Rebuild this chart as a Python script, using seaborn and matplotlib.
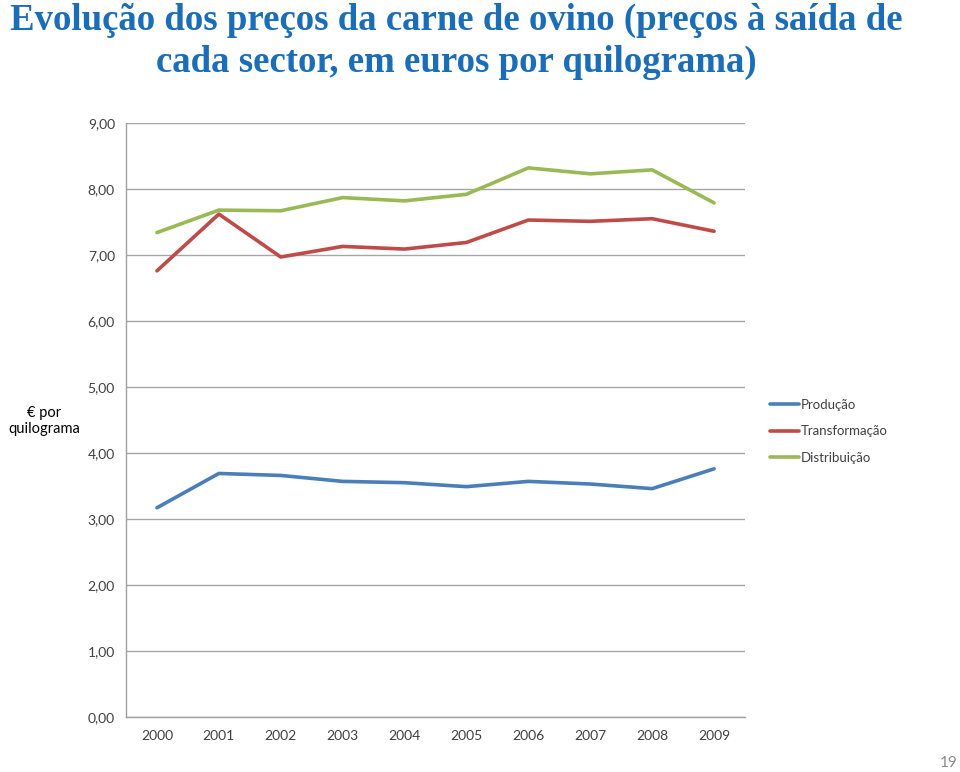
import matplotlib
matplotlib.use("Agg")
import matplotlib.pyplot as plt
import seaborn as sns
import pandas as pd
from matplotlib.ticker import FixedLocator, FuncFormatter

years = [2000, 2001, 2002, 2003, 2004, 2005, 2006, 2007, 2008, 2009]
producao = [3.17, 3.69, 3.66, 3.57, 3.55, 3.49, 3.57, 3.53, 3.46, 3.76]
transformacao = [6.76, 7.62, 6.97, 7.13, 7.09, 7.19, 7.53, 7.51, 7.55, 7.36]
distribuicao = [7.34, 7.68, 7.67, 7.87, 7.82, 7.92, 8.32, 8.23, 8.29, 7.79]
series_names = ["Produção", "Transformação", "Distribuição"]
colors = ["#4A7EBB", "#BE4B48", "#98B954"]

df = pd.DataFrame({
    "ano": years * 3,
    "preco": producao + transformacao + distribuicao,
    "sector": [series_names[0]] * 10 + [series_names[1]] * 10 + [series_names[2]] * 10,
})

sns.set_style("white")
plt.rcParams["font.family"] = ["Lato", "DejaVu Sans"]

fig = plt.figure(figsize=(9.6, 7.72), dpi=100)
ax = fig.add_axes([126 / 960, 1 - 717 / 772, (745 - 126) / 960, (717 - 123) / 772])

sns.lineplot(data=df, x="ano", y="preco", hue="sector", palette=colors,
             hue_order=series_names, linewidth=2.6, ax=ax, legend=False)

ax.set_xlim(years[0] - 0.5, years[-1] + 0.5)
ax.set_ylim(0, 9)
ax.set_yticks([0, 1, 2, 3, 4, 5, 6, 7, 8, 9])
ax.yaxis.set_major_formatter(FuncFormatter(lambda v, p: f"{v:.2f}".replace(".", ",")))
ax.set_xticks(years)
ax.set_xticklabels([str(y) for y in years])
ax.xaxis.set_minor_locator(FixedLocator([y - 0.5 for y in years] + [years[-1] + 0.5]))
ax.tick_params(axis="x", which="major", length=0, pad=9, labelsize=10, colors="#404040")
ax.tick_params(axis="x", which="minor", length=5, color="#A0A0A0", width=1)
ax.tick_params(axis="y", which="major", length=5, color="#A0A0A0", labelsize=10,
               labelcolor="#404040", pad=3)
ax.grid(axis="y", color="#A6A6A6", linewidth=1)
ax.set_axisbelow(True)
for s in ["top", "right"]:
    ax.spines[s].set_visible(False)
for s in ["left", "bottom"]:
    ax.spines[s].set_color("#A0A0A0")
    ax.spines[s].set_linewidth(1)
ax.set_xlabel("")
ax.set_ylabel("")

fig.text(44 / 960, 1 - 421 / 772, "€ por\nquilograma", ha="center", va="center",
         fontsize=10.5, color="black", linespacing=1.15)

handles = [plt.Line2D([], [], color=c, linewidth=2.6) for c in colors]
fig.legend(handles, series_names, loc="upper left", bbox_to_anchor=(758 / 960, 1 - 387 / 772),
           frameon=False, fontsize=9.5, handlelength=2.2, handletextpad=0.15,
           labelspacing=1.1, labelcolor="#404040")

fig.text(456 / 960, 1 - 20 / 772, "Evolução dos preços da carne de ovino (preços à saída de",
         ha="center", va="center", family=["Liberation Serif", "DejaVu Serif"],
         fontweight="bold", fontsize=26.5, color="#1B6DB8")
fig.text(456 / 960, 1 - 62 / 772, "cada sector, em euros por quilograma)",
         ha="center", va="center", family=["Liberation Serif", "DejaVu Serif"],
         fontweight="bold", fontsize=26.5, color="#1B6DB8")

fig.text(958 / 960, 1 - 763 / 772, "19", ha="right", va="center", fontsize=11, color="#8C8C8C")

fig.savefig("out.png", dpi=100)
